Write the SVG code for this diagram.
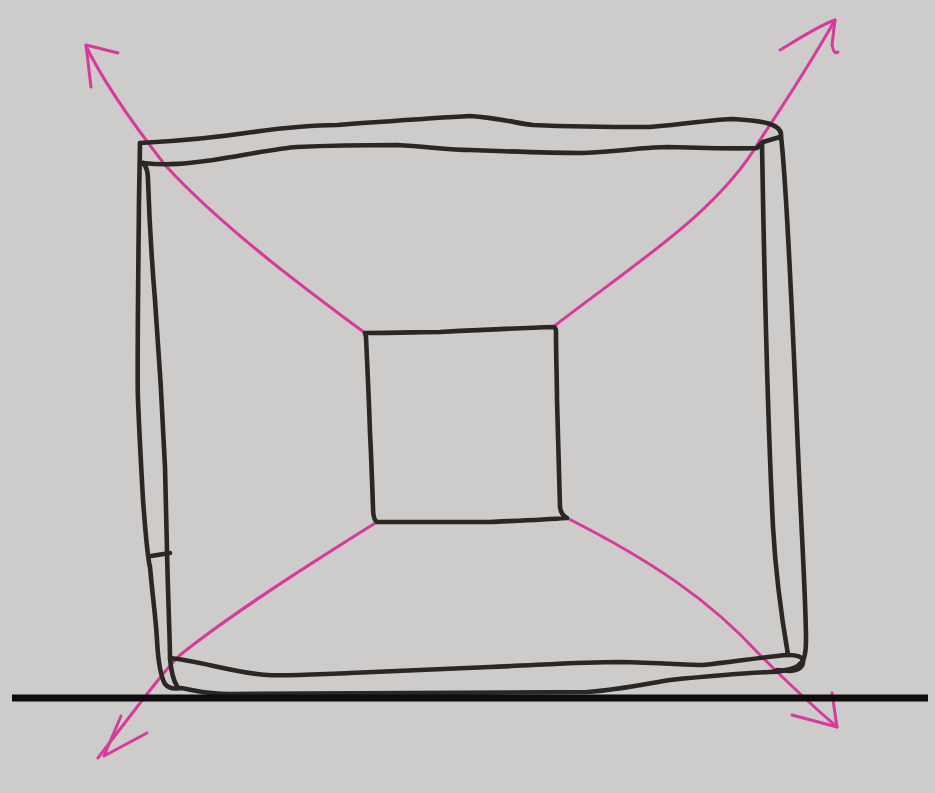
<svg xmlns="http://www.w3.org/2000/svg" width="935" height="793" viewBox="0 0 935 793">
  <style>
    .ink { fill: none; stroke: #2b2725; stroke-width: 4.6; stroke-linecap: round; stroke-linejoin: round; }
    .pink { fill: none; stroke: #d63b9b; stroke-width: 3; stroke-linecap: round; stroke-linejoin: round; }
    .base { fill: none; stroke: #0d0d0d; stroke-width: 7; }
  </style>
  <rect x="0" y="0" width="935" height="793" fill="#cecccA"/>

  <g id="connectors">
    <path class="pink" d="M365,333 C300,285 220,225 165,165 C130,120 100,75 86,46"/>
    <path class="pink" d="M118,53 L86,45 L91,87"/>
    <path class="pink" d="M553,327 C640,260 720,210 760,140 C790,95 815,55 835,20"/>
    <path class="pink" d="M780,50 C800,38 820,25 835,20 L832,45 Q834,55 838,52"/>
    <path class="pink" d="M377,522 C300,570 230,615 180,655 C165,670 150,690 98,758"/>
    <path class="pink" d="M121,716 L104,756 L147,733"/>
    <path class="pink" d="M567,518 C650,560 710,600 760,655 C790,685 815,708 837,727"/>
    <path class="pink" d="M792,715 L837,727 L832,693"/>
  </g>

  <g id="outer-frame">
    <path class="ink" d="M140,143 C160,142 200,140 253,132 C290,127 320,125 337,125 C380,122 430,118 470,116 C500,118 520,124 533,125 C580,127 620,127 650,127 C690,124 715,119 733,119 C750,120 762,121 770,124 Q782,128 781,136"/>
    <path class="ink" d="M143,163 C170,166 190,163 213,160 C250,154 280,148 297,147 C340,145 380,145 397,145 C430,147 450,150 470,150 C520,152 560,153 583,153 C620,151 650,147 667,147 C700,148 735,149 757,148 L763,142 L780,137"/>
    <path class="ink" d="M762,143 L763,200 C765,300 768,427 773,527 C776,580 782,620 788,655"/>
    <path class="ink" d="M781,136 C786,180 790,260 797,427 C801,527 806,600 806,640 Q806,660 800,664"/>
    <path class="ink" d="M140,143 L139,200 C138,300 137,380 138,400 C140,450 142,480 143,500 C146,540 148,560 150,567 C153,600 156,620 157,640 C158,660 160,675 165,684 Q170,690 180,688 C195,690 205,694 230,694 L587,692 C620,690 650,683 670,680 C710,676 750,673 770,672 C785,671 797,668 800,664"/>
    <path class="ink" d="M143,163 Q148,168 148,180 C150,240 155,300 155,300 C158,340 162,400 165,467 C166,510 167,540 167,550 C168,600 170,640 170,658 C171,670 173,680 177,686"/>
    <path class="ink" d="M151,556 L170,553"/>
    <path class="ink" d="M170,658 C200,661 235,673 267,675 C290,676 320,674 350,673 C400,671 450,669 490,667 C540,665 580,662 620,662 C660,663 690,665 703,665 C730,662 750,659 777,656 Q800,653 803,660 Q804,670 790,671 L777,670"/>
  </g>

  <g id="inner-square">
    <path class="ink" d="M365,333 C400,333 420,332 440,332 C480,330 520,328 553,327 Q556,327 556,332 C556,360 557,380 557,400 C558,440 559,480 560,507 Q561,515 567,518 C540,520 510,521 490,522 C450,522 410,522 377,522 Q373,520 373,507 C372,480 371,450 370,433 C369,400 367,360 366,337 Z"/>
  </g>

  <g id="ground">
    <path class="base" d="M12,698 L928,698"/>
  </g>
</svg>
